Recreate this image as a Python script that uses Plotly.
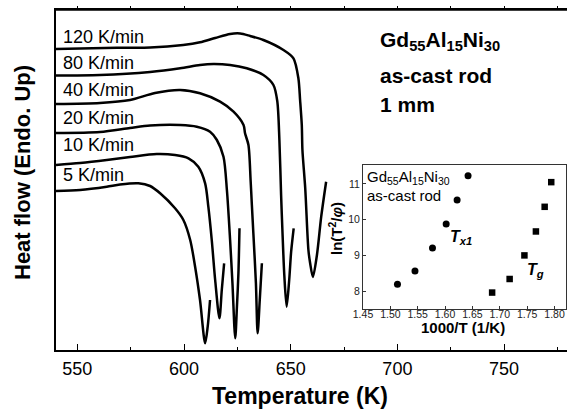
import plotly.graph_objects as go

# ---- DSC curves (Temperature in K, heat flow in arbitrary units, endo up) ----
rates = ["5 K/min", "10 K/min", "20 K/min", "40 K/min", "80 K/min", "120 K/min"]

T_5 = [540, 551.3, 563.8, 570.0, 578.6, 584.1, 588.8, 595.8, 599.7, 602.9, 605.2, 607.5, 609.9, 611.1, 612.2]
HF_5 = [159, 160, 163.3, 165.5, 166.7, 164, 156.7, 141.7, 130, 110, 83.3, 50, 6.7, 23.3, 50]

T_10 = [540, 551.3, 563.8, 574.7, 587.2, 595.8, 602.1, 606.7, 609.9, 611.4, 613.0, 614.6, 616.6, 617.7, 618.8]
HF_10 = [185, 187, 190, 193, 196, 195, 191.7, 183.3, 166.7, 143.3, 110, 70, 31.7, 60, 86.7]

T_20 = [540, 560.6, 574.7, 584.1, 598.2, 606.0, 612.2, 615.4, 618.5, 620.1, 621.6, 622.7, 624.0, 624.8, 625.5, 626.0]
HF_20 = [217, 218, 222, 224.5, 225, 223.3, 218.3, 210, 193.3, 160, 110, 66.7, 11.7, 43.3, 76.7, 121.7]

T_40 = [540, 560.6, 574.7, 586.4, 598.2, 607.5, 616.9, 623.2, 627.9, 628.6, 630.2, 631.2, 631.8, 632.5, 633.7, 634.5, 635.5, 636.5]
HF_40 = [246, 247, 250, 257, 260, 256.7, 248.3, 238.3, 225, 216.7, 205, 170, 145, 116.7, 66.7, 16.7, 50, 86.7]

T_80 = [540, 560.6, 584.1, 598.2, 607.5, 613.8, 621.6, 629.4, 637.2, 641.9, 643.7, 644.7, 645.5, 646.2, 647.0, 648.1, 649.3, 650.2, 651.4]
HF_80 = [274.5, 275, 278, 281.7, 285, 286, 285, 281.7, 275, 265, 249, 210, 155, 115, 75, 43.3, 70, 98, 121.7]

T_120 = [540, 568.6, 584.1, 599.6, 607.5, 614.6, 621.6, 626.3, 631.0, 637.2, 646.6, 651.3, 653.6, 654.4, 655.2, 655.5,
         656.8, 658.3, 659.1, 660.4, 662.3, 664.3, 666.6]
HF_120 = [301, 302.3, 302.5, 305, 307.7, 312, 316, 316.5, 314, 310, 300, 291.7, 271.7, 250, 225, 200,
          162, 100, 87, 73, 95, 133.3, 168.3]

curve_T = [T_5, T_10, T_20, T_40, T_80, T_120]
curve_HF = [HF_5, HF_10, HF_20, HF_40, HF_80, HF_120]
label_HF = [175.5, 205, 232.5, 260, 287, 313.3]

# ---- Kissinger inset ----
inv_T_x1 = [1.513, 1.545, 1.577, 1.602, 1.622, 1.642]
ln_x1 = [8.19, 8.56, 9.21, 9.88, 10.55, 11.23]
inv_T_g = [1.686, 1.718, 1.745, 1.766, 1.782, 1.794]
ln_g = [7.96, 8.34, 9.00, 9.67, 10.36, 11.05]

FONT = "Liberation Sans, Arial, Helvetica, sans-serif"

fig = go.Figure()
for T, HF in zip(curve_T, curve_HF):
    fig.add_trace(go.Scatter(x=T, y=HF, mode="lines",
                             line=dict(color="black", width=2.5, shape="spline", smoothing=0.8),
                             showlegend=False, hoverinfo="skip"))

fig.add_trace(go.Scatter(x=inv_T_x1, y=ln_x1, mode="markers", xaxis="x3", yaxis="y3",
                         marker=dict(symbol="circle", size=7, color="black"), showlegend=False))
fig.add_trace(go.Scatter(x=inv_T_g, y=ln_g, mode="markers", xaxis="x3", yaxis="y3",
                         marker=dict(symbol="square", size=6.5, color="black"), showlegend=False))
# invisible trace for the top axis
fig.add_trace(go.Scatter(x=[None], y=[None], xaxis="x2", yaxis="y", showlegend=False))

annotations = []
for r, yv in zip(rates, label_HF):
    annotations.append(dict(x=542.4, y=yv, xref="x", yref="y", text=r, showarrow=False,
                            xanchor="left", yanchor="middle",
                            font=dict(family=FONT, size=18, color="black")))

comp_lines = ["<b>Gd<sub>55</sub>Al<sub>15</sub>Ni<sub>30</sub></b>", "<b>as-cast rod</b>", "<b>1 mm</b>"]
comp_y_px = [41, 75, 104]
for t, ypx in zip(comp_lines, comp_y_px):
    annotations.append(dict(x=(378 - 56) / 511, y=(350 - ypx) / 340, xref="paper", yref="paper", text=t,
                            showarrow=False, xanchor="left", yanchor="middle",
                            font=dict(family=FONT, size=21, color="black")))

# axis titles
annotations.append(dict(x=(300 - 56) / 511, y=(350 - 396) / 340, xref="paper", yref="paper",
                        text="<b>Temperature (K)</b>", showarrow=False, xanchor="center", yanchor="middle",
                        font=dict(family=FONT, size=23, color="black")))
annotations.append(dict(x=(22 - 56) / 511, y=(350 - 173) / 340, xref="paper", yref="paper",
                        text="<b>Heat flow (Endo. Up)</b>", showarrow=False, textangle=-90,
                        xanchor="center", yanchor="middle",
                        font=dict(family=FONT, size=22, color="black")))
# inset titles & labels
annotations.append(dict(x=(462.7 - 56) / 511, y=(350 - 327) / 340, xref="paper", yref="paper",
                        text="<b>1000/T (1/K)</b>", showarrow=False, xanchor="center", yanchor="middle",
                        font=dict(family=FONT, size=15, color="black")))
annotations.append(dict(x=(336 - 56) / 511, y=(350 - 229) / 340, xref="paper", yref="paper",
                        text="<b>ln(T<sup>2</sup>/<i>φ</i>)</b>", showarrow=False, textangle=-90,
                        xanchor="center", yanchor="middle",
                        font=dict(family=FONT, size=15, color="black")))
annotations.append(dict(x=(365 - 56) / 511, y=(350 - 177) / 340, xref="paper", yref="paper",
                        text="Gd<sub>55</sub>Al<sub>15</sub>Ni<sub>30</sub>", showarrow=False,
                        xanchor="left", yanchor="middle", font=dict(family=FONT, size=15, color="black")))
annotations.append(dict(x=(365 - 56) / 511, y=(350 - 195) / 340, xref="paper", yref="paper",
                        text="as-cast rod", showarrow=False,
                        xanchor="left", yanchor="middle", font=dict(family=FONT, size=15, color="black")))
annotations.append(dict(x=1.629, y=9.49, xref="x3", yref="y3", text="<b><i>T<sub>x1</sub></i></b>",
                        showarrow=False, xanchor="center", yanchor="middle",
                        font=dict(family=FONT, size=16, color="black")))
annotations.append(dict(x=1.766, y=8.59, xref="x3", yref="y3", text="<b><i>T<sub>g</sub></i></b>",
                        showarrow=False, xanchor="center", yanchor="middle",
                        font=dict(family=FONT, size=16, color="black")))

fig.update_layout(
    width=567, height=412,
    margin=dict(l=56, r=0, t=10, b=62),
    paper_bgcolor="white", plot_bgcolor="white",
    font=dict(family=FONT, color="black"),
    xaxis=dict(range=[540, 779.5], domain=[0, 1], showgrid=False, zeroline=False,
               showline=True, linecolor="black", linewidth=1.5,
               ticks="inside", ticklen=6, tickwidth=1.2, tickcolor="black",
               tick0=550, dtick=50, tickfont=dict(size=18, color="black"), ticklabelstandoff=2,
               minor=dict(ticks="inside", ticklen=3, dtick=25, tick0=550, tickcolor="black", tickwidth=1.2)),
    xaxis2=dict(range=[540, 779.5], overlaying="x", side="top", showgrid=False, zeroline=False,
                showline=True, linecolor="black", linewidth=1.5, ticks="outside", ticklen=2,
                tickcolor="black", tick0=550, dtick=25, showticklabels=False),
    yaxis=dict(range=[0, 340], domain=[0, 1], showgrid=False, zeroline=False, showline=True,
               linecolor="black", linewidth=1.5, ticks="", showticklabels=False),
    xaxis3=dict(domain=[(363 - 56) / 511, (566 - 56) / 511], anchor="y3", range=[1.45, 1.821],
                showgrid=False, zeroline=False, showline=True, mirror=True, linecolor="#333", linewidth=1,
                ticks="inside", ticklen=3, tickcolor="#333", tick0=1.45, dtick=0.05, tickformat=".2f",
                tickfont=dict(size=10.5, color="#222"), ticklabelstandoff=-5),
    yaxis3=dict(domain=[(350 - 309) / 340, (350 - 165) / 340], anchor="x3", range=[7.5, 11.53],
                showgrid=False, zeroline=False, showline=True, mirror=True, linecolor="#333", linewidth=1,
                ticks="inside", ticklen=3, tickcolor="#333", tick0=8, dtick=1,
                tickfont=dict(size=10.5, color="#222")),
    shapes=[dict(type="line", xref="paper", yref="paper", x0=0, x1=1, y0=1, y1=1,
                 line=dict(color="black", width=1.5))],
    annotations=annotations,
)

fig.write_html("out.html", config={"displayModeBar": False},
               post_script="document.body.style.margin='0';document.body.style.overflow='hidden';")
